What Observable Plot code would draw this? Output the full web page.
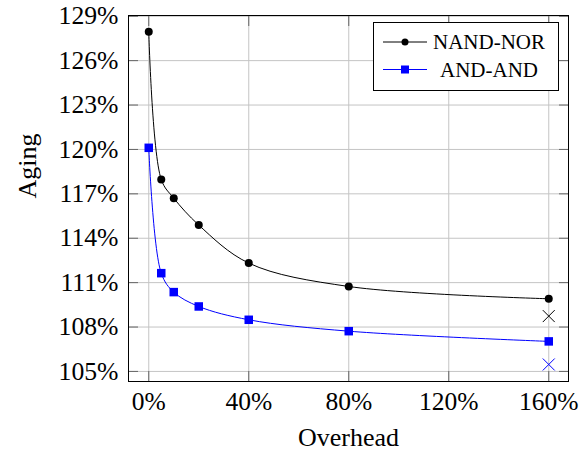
<!DOCTYPE html>
<html><head><meta charset="utf-8">
<script src="https://cdn.jsdelivr.net/npm/d3@7"></script>
<script src="https://cdn.jsdelivr.net/npm/@observablehq/plot@0.6"></script>
<style>
body{margin:0;background:#fff;}
#wrap{position:relative;width:587px;height:452px;font-family:"Liberation Serif",serif;}
#wrap svg, #wrap svg text, #wrap svg g {font-family:"Liberation Serif",serif !important;font-variant:normal !important;}
#legend{position:absolute;left:373px;top:22px;}
</style></head><body><div id="wrap"></div>
<script>
const overhead = [0, 5, 10, 20, 40, 80, 160];
const nandNor = [127.95, 117.97, 116.71, 114.89, 112.32, 110.74, 109.91];
const andAnd = [120.11, 111.64, 110.36, 109.39, 108.49, 107.72, 107.03];
const crossX = [160, 160];
const crossY = [108.74, 105.47];
const series = ["NAND-NOR", "AND-AND"];
const colors = ["#000000", "#0000ff"];
const symbols = ["circle", "square"];
const xTicks = [0, 40, 80, 120, 160];
const yTicks = [105, 108, 111, 114, 117, 120, 123, 126, 129];

const rows = [];
overhead.forEach((x, i) => {
  rows.push({series: series[0], x, y: nandNor[i]});
  rows.push({series: series[1], x, y: andAnd[i]});
});
const crosses = crossX.map((x, i) => ({series: series[i], x, y: crossY[i]}));
const pct = d => d + "%";
const serif = "Liberation Serif";

const chart = Plot.plot({
  width: 587, height: 452,
  marginLeft: 128, marginRight: 19, marginTop: 15, marginBottom: 71,
  style: {fontFamily: serif, fontSize: "26px", background: "#fff"},
  x: {domain: [-8.1, 167.9], ticks: xTicks, label: null},
  y: {domain: [104.32, 129.05], ticks: yTicks, label: null},
  color: {domain: series, range: colors},
  marks: [
    Plot.gridX(xTicks, {stroke: "#c4c4c4", strokeOpacity: 1}),
    Plot.gridY(yTicks, {stroke: "#c4c4c4", strokeOpacity: 1}),
    Plot.line(rows, {x: "x", y: "y", z: "series", stroke: "series", curve: "catmull-rom", strokeWidth: 1}),
    Plot.dot(rows.filter(d => d.series === series[0]), {x: "x", y: "y", symbol: symbols[0], fill: colors[0], r: 4}),
    Plot.dot(rows.filter(d => d.series === series[1]), {x: "x", y: "y", symbol: symbols[1], fill: colors[1], r: 4.8}),
    Plot.dot(crosses, {x: "x", y: "y", symbol: "times", stroke: "series", r: 5.5, strokeWidth: 1}),
    Plot.axisX(xTicks, {anchor: "bottom", tickSize: -10, tickFormat: () => "", stroke: "#666"}),
    Plot.axisX(xTicks, {anchor: "top", tickSize: -10, tickFormat: () => "", stroke: "#666"}),
    Plot.axisY(yTicks, {anchor: "left", tickSize: -10, tickFormat: () => "", stroke: "#666"}),
    Plot.axisY(yTicks, {anchor: "right", tickSize: -10, tickFormat: () => "", stroke: "#666"}),
    Plot.axisX(xTicks, {anchor: "bottom", tickSize: 0, tickPadding: 10, tickFormat: pct, fill: "#000", fontFamily: serif, fontSize: 25.5}),
    Plot.axisY(yTicks, {anchor: "left", tickSize: 0, tickPadding: 10, tickFormat: pct, fill: "#000", fontFamily: serif, fontSize: 25.7}),
    Plot.frame({stroke: "#000", strokeWidth: 1}),
    Plot.text(["Overhead"], {frameAnchor: "bottom", dy: 64, lineAnchor: "bottom", fontSize: 26, fontFamily: serif, fill: "#000"}),
    Plot.text(["Aging"], {frameAnchor: "left", dx: -101, rotate: -90, lineAnchor: "middle", fontSize: 26, fontFamily: serif, fill: "#000"})
  ]
});
const wrap = document.getElementById("wrap");
wrap.appendChild(chart);

// legend
const lw = 186, lh = 69;
const leg = d3.create("svg").attr("id", "legend").attr("width", lw).attr("height", lh);
leg.append("rect").attr("x", 0.5).attr("y", 0.5).attr("width", lw - 1).attr("height", lh - 1)
  .attr("fill", "#fff").attr("stroke", "#000");
series.forEach((s, i) => {
  const cy = 20 + i * 27.5;
  const g = leg.append("g");
  g.append("line").attr("x1", 10).attr("x2", 54).attr("y1", cy).attr("y2", cy).attr("stroke", colors[i]);
  if (symbols[i] === "circle") g.append("circle").attr("cx", 32).attr("cy", cy).attr("r", 3.5).attr("fill", colors[i]);
  else g.append("rect").attr("x", 28).attr("y", cy - 4).attr("width", 8).attr("height", 8).attr("fill", colors[i]);
  g.append("text").attr("x", 116).attr("y", cy).attr("dy", "0.35em").attr("text-anchor", "middle")
    .attr("font-family", serif).attr("font-size", 21).text(s);
});
wrap.appendChild(leg.node());
</script></body></html>
